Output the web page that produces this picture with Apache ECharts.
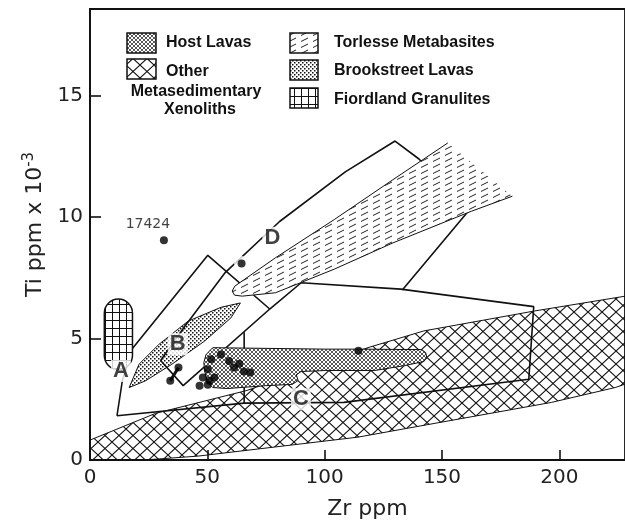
<!DOCTYPE html>
<html>
<head>
<meta charset="utf-8">
<script src="https://cdn.jsdelivr.net/npm/echarts@6/dist/echarts.min.js"></script>
<style>
html, body { margin: 0; padding: 0; background: #fff; }
#chart { width: 625px; height: 525px; }
</style>
</head>
<body>
<div id="chart"></div>
<script>
// all points are [Zr ppm, Ti ppm x 10^-3]
var xenolithUpper = [[0,0.82],[28,1.92],[66.9,2.86],[118.4,4.62],[142.3,5.31],[189.5,6.13],[232,6.8]];
var xenolithLower = [[232,3.25],[223.8,2.98],[196.7,2.37],[114.2,0.94],[46,0.16],[23,0],[0,0]];

var hostLavas = [[52.3,4.62],[100.4,4.56],[114.4,4.56],[141.4,4.54],[143.1,4.41],[143.5,4.21],[142.3,4.05],
  [133.9,3.88],[121.3,3.68],[100.4,3.68],[90.0,3.64],[87.9,3.51],[88.7,3.27],[86.2,3.11],[75.3,3.06],
  [58.6,2.94],[52.3,2.98],[49.8,3.23],[49.0,3.60],[48.5,4.00],[49.4,4.33]];

var brookstreet = [[16.7,2.98],[20.9,3.94],[29.3,4.75],[41.8,5.71],[55.8,6.28],[64.1,6.46],
  [60.0,5.84],[48.8,4.89],[34.9,3.94],[23.7,3.26]];

var torlesseUpper = [[152.5,13.04],[129.1,11.53],[104.1,9.89],[79.1,8.32],[61.7,7.15],[60.6,6.95]];
var torlesseLower = [[61.6,6.78],[64.9,6.74],[79.1,6.88],[104.1,7.85],[129.1,8.93],[162.5,10.23],[180.0,10.85]];

// [Zr min, Ti min, Zr max, Ti max]
var granulites = [[6.1,3.72,18.1,6.62]];

// field boundary lines (A, B, C, D)
var lineOuter = [[11.5,1.82],[13.8,3.27],[18.0,4.58],[50.2,8.42],[76.6,6.21]];
var lineC = [[30.1,4.09],[39.7,3.06],[76.6,6.21],[90.0,7.29],[132.4,7.03],[189.1,6.31],[187.0,3.32],
  [108.2,2.37],[65.7,2.34],[11.5,1.82]];
var lineBC = [[65.7,5.25],[65.7,2.34]];
var lineD = [[30.1,4.09],[40.6,5.52],[57.7,7.72],[80.8,9.81],[108.8,11.85],[130.0,13.12],[140.2,12.38],
  [161.1,10.22],[133.1,6.99]];

var samples = [[51.6,4.14],[55.8,4.34],[59.3,4.07],[61.4,3.80],[65.6,3.64],[68.3,3.60],[48.1,3.39],
  [50.9,3.26],[46.7,3.05],[50.2,3.09],[53.0,3.39],[50.2,3.73],[63.6,3.96],[37.7,3.80],[34.2,3.26],
  [114.4,4.49]];
var sampleOnLine = [[64.6,8.08]];
var tieLine = [[37.7,3.80],[34.2,3.26]];
var sample17424 = [[31.5,9.04]];

var fieldNames = ['A','B','C','D'];
var fieldNamePos = [[13.2,3.66],[37.4,4.76],[89.9,2.50],[77.7,9.14]];

var xTicks = [0,50,100,150,200];
var yTicks = [0,5,10,15];

function makePattern(w, h, draw) {
  var c = document.createElement('canvas');
  c.width = w; c.height = h;
  var ctx = c.getContext('2d');
  draw(ctx, w, h);
  return { image: c, repeat: 'repeat' };
}

var patXeno = makePattern(14, 13, function (ctx, w, h) {
  ctx.strokeStyle = '#111'; ctx.lineWidth = 1.1;
  ctx.beginPath();
  ctx.moveTo(0, 0); ctx.lineTo(w, h);
  ctx.moveTo(w, 0); ctx.lineTo(0, h);
  ctx.stroke();
});
var patHost = makePattern(4, 4, function (ctx, w, h) {
  ctx.fillStyle = '#fff'; ctx.fillRect(0, 0, w, h);
  ctx.strokeStyle = '#222'; ctx.lineWidth = 0.75;
  ctx.beginPath();
  ctx.moveTo(0, 0); ctx.lineTo(w, h);
  ctx.moveTo(w, 0); ctx.lineTo(0, h);
  ctx.stroke();
});
var patDots = makePattern(4, 4, function (ctx, w, h) {
  ctx.fillStyle = '#fff'; ctx.fillRect(0, 0, w, h);
  ctx.fillStyle = '#111';
  ctx.fillRect(0, 0, 1.5, 1.5);
  ctx.fillRect(2, 2, 1.5, 1.5);
});
var patGrid = makePattern(7, 8, function (ctx, w, h) {
  ctx.fillStyle = '#fff'; ctx.fillRect(0, 0, w, h);
  ctx.fillStyle = '#111';
  ctx.fillRect(0, 0, w, 1);
  ctx.fillRect(0, 0, 1, h);
});
var patDash = makePattern(12, 6, function (ctx, w, h) {
  ctx.fillStyle = '#fff'; ctx.fillRect(0, 0, w, h);
  ctx.strokeStyle = '#222'; ctx.lineWidth = 1;
  ctx.beginPath();
  ctx.moveTo(1, 5.5); ctx.lineTo(8, 2);
  ctx.stroke();
});

function fieldSeries(pts, fill, stroke, z) {
  return {
    type: 'custom',
    data: pts,
    z: z,
    clip: true,
    silent: true,
    renderItem: function (params, api) {
      if (params.dataIndex !== 0) return null;
      return {
        type: 'polygon',
        shape: { points: pts.map(function (p) { return api.coord(p); }) },
        style: { fill: fill, stroke: stroke, lineWidth: 1 }
      };
    }
  };
}

function lineSeries(pts, width, z) {
  return {
    type: 'line',
    data: pts,
    symbol: 'none',
    z: z,
    silent: true,
    lineStyle: { color: '#111', width: width }
  };
}

function dotSeries(pts, size, color, z) {
  return {
    type: 'scatter',
    data: pts,
    symbolSize: size,
    z: z,
    silent: true,
    itemStyle: { color: color }
  };
}

var chart = echarts.init(document.getElementById('chart'));

var legendFont = 'bold 16px "Liberation Sans", Arial, sans-serif';

var label17424 = dotSeries(sample17424, 8, '#000', 6);
label17424.label = {
  show: true, position: 'top', distance: 5, offset: [-16, 0],
  formatter: '17424', fontFamily: 'DejaVu Sans', fontSize: 14, color: '#111'
};

chart.setOption({
  animation: false,
  backgroundColor: '#fff',
  grid: { left: 90, top: 9, right: -10, bottom: 62, show: true, borderColor: '#111', borderWidth: 1.8 },
  xAxis: {
    type: 'value', min: 0, max: 228, interval: 50,
    axisLine: { show: true, onZero: false, lineStyle: { color: '#111', width: 1.8 } },
    axisTick: { inside: true, length: 10, lineStyle: { color: '#111', width: 1.6 } },
    axisLabel: {
      showMaxLabel: false, margin: 8, fontSize: 20, fontFamily: 'DejaVu Sans', color: '#222',
      formatter: function (v) { return xTicks.indexOf(v) >= 0 ? String(v) : ''; }
    },
    splitLine: { show: false },
    name: 'Zr ppm', nameLocation: 'middle', nameGap: 38,
    nameTextStyle: { fontFamily: 'DejaVu Sans', fontSize: 22, color: '#222', padding: [0, 0, 0, 20] }
  },
  yAxis: {
    type: 'value', min: 0, max: 18.55, interval: 5,
    axisLine: { show: true, onZero: false, lineStyle: { color: '#111', width: 1.8 } },
    axisTick: { inside: true, length: 11, lineStyle: { color: '#111', width: 1.6 } },
    axisLabel: {
      showMaxLabel: false, margin: 7, fontSize: 20, fontFamily: 'DejaVu Sans', color: '#222',
      formatter: function (v) { return yTicks.indexOf(v) >= 0 ? String(v) : ''; }
    },
    splitLine: { show: false },
    name: 'Ti ppm x 10{sup|-3}', nameLocation: 'middle', nameGap: 39,
    nameTextStyle: {
      fontFamily: 'DejaVu Sans', fontSize: 22, color: '#222', padding: [0, 0, 0, 20],
      rich: { sup: { fontFamily: 'DejaVu Sans', fontSize: 15, color: '#222', padding: [0, 0, 14, 0] } }
    }
  },
  graphic: [
    { type: 'rect', shape: { x: 127, y: 33, width: 29, height: 20 }, style: { fill: patHost, stroke: '#111', lineWidth: 1.5 } },
    { type: 'rect', shape: { x: 127, y: 59, width: 29, height: 20 }, style: { fill: patXeno, stroke: '#111', lineWidth: 1.5 } },
    { type: 'rect', shape: { x: 290, y: 33, width: 28, height: 20 }, style: { fill: patDash, stroke: '#111', lineWidth: 1.5 } },
    { type: 'rect', shape: { x: 290, y: 60, width: 28, height: 20 }, style: { fill: patDots, stroke: '#111', lineWidth: 1.5 } },
    { type: 'rect', shape: { x: 290, y: 88, width: 28, height: 20 }, style: { fill: patGrid, stroke: '#111', lineWidth: 1.5 } },
    { type: 'text', style: { text: 'Host Lavas', x: 166, y: 43, font: legendFont, fill: '#111', textAlign: 'left', textVerticalAlign: 'middle' } },
    { type: 'text', style: { text: 'Other', x: 166, y: 72, font: legendFont, fill: '#111', textAlign: 'left', textVerticalAlign: 'middle' } },
    { type: 'text', style: { text: 'Metasedimentary', x: 196, y: 92, font: legendFont, fill: '#111', textAlign: 'center', textVerticalAlign: 'middle' } },
    { type: 'text', style: { text: 'Xenoliths', x: 200, y: 110, font: legendFont, fill: '#111', textAlign: 'center', textVerticalAlign: 'middle' } },
    { type: 'text', style: { text: 'Torlesse Metabasites', x: 334, y: 43, font: legendFont, fill: '#111', textAlign: 'left', textVerticalAlign: 'middle' } },
    { type: 'text', style: { text: 'Brookstreet Lavas', x: 334, y: 71, font: legendFont, fill: '#111', textAlign: 'left', textVerticalAlign: 'middle' } },
    { type: 'text', style: { text: 'Fiordland Granulites', x: 334, y: 100, font: legendFont, fill: '#111', textAlign: 'left', textVerticalAlign: 'middle' } }
  ],
  series: [
    fieldSeries(xenolithUpper.concat(xenolithLower), patXeno, '#111', 1),
    fieldSeries(brookstreet, patDots, '#111', 2),
    lineSeries(lineOuter, 1.6, 3),
    lineSeries(lineC, 1.6, 3),
    lineSeries(lineBC, 1.6, 3),
    lineSeries(lineD, 1.6, 3),
    fieldSeries(hostLavas, patHost, '#111', 4),
    fieldSeries(torlesseUpper.concat(torlesseLower), patDash, null, 4),
    lineSeries(torlesseUpper.concat(torlesseLower), 1, 4),
    {
      type: 'custom',
      data: granulites,
      z: 4,
      silent: true,
      encode: { x: [0, 2], y: [1, 3] },
      renderItem: function (params, api) {
        var p1 = api.coord([api.value(0), api.value(3)]);
        var p2 = api.coord([api.value(2), api.value(1)]);
        var w = p2[0] - p1[0];
        return {
          type: 'rect',
          shape: { x: p1[0], y: p1[1], width: w, height: p2[1] - p1[1], r: w / 2 },
          style: { fill: patGrid, stroke: '#111', lineWidth: 1.5 }
        };
      }
    },
    lineSeries(tieLine, 3, 6),
    dotSeries(samples, 8, '#000', 6),
    dotSeries(sampleOnLine, 15, '#fff', 5),
    dotSeries(sampleOnLine, 8, '#000', 6),
    label17424,
    {
      type: 'scatter',
      data: fieldNamePos.map(function (p, i) { return { value: p, name: fieldNames[i] }; }),
      symbolSize: 1,
      z: 7,
      silent: true,
      itemStyle: { color: 'rgba(0,0,0,0)' },
      label: {
        show: true, position: 'inside', formatter: '{b}',
        fontFamily: '"Liberation Sans", Arial, sans-serif', fontSize: 22, fontWeight: 'bold', color: '#111',
        backgroundColor: '#fff', padding: [0, 2]
      }
    }
  ]
});
</script>
</body>
</html>
